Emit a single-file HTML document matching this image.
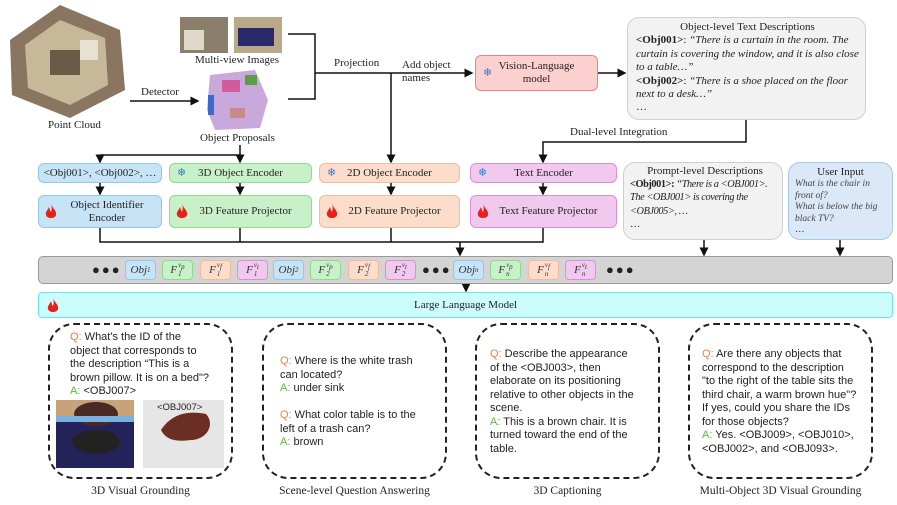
<!DOCTYPE html>
<html><head><meta charset="utf-8"><style>
body{margin:0;width:897px;height:505px;background:#fff;position:relative;overflow:hidden;font-family:"Liberation Serif",serif;color:#222}
.a{position:absolute}
.box{position:absolute;box-sizing:border-box;border-radius:6px;display:flex;align-items:center;justify-content:center;font-size:11px;text-align:center;line-height:13px}
.b{background:#c6e4f6;border:1.5px solid #8ec9ee}
.g{background:#c9f1c9;border:1.5px solid #8ddb8d}
.o{background:#fcdccb;border:1.5px solid #f4bb9b}
.p{background:#f1c9ef;border:1.5px solid #da8ed8}
.tk{position:absolute;top:260px;height:20px;width:31px;box-sizing:border-box;border-radius:4px;font-size:11px;font-style:italic;display:flex;align-items:center;justify-content:center;font-family:"Liberation Serif",serif;color:#333}
.tk sub{font-size:7px;vertical-align:-2px}
.ss{display:inline-flex;flex-direction:column;font-size:7px;line-height:7px;margin-left:1px;font-style:italic}
.dash{position:absolute;box-sizing:border-box;border:2px dashed #222;border-radius:26px;top:323px;height:156px;width:185px}
.pt{position:absolute;font-family:"Liberation Sans",sans-serif;font-size:11px;line-height:13.5px;color:#222;white-space:nowrap}
.q{color:#ef7c3c}.an{color:#5bb83a}
.lab{position:absolute;top:485px;font-size:11.5px;text-align:center}
.sn{color:#2a7fd4;font-size:11px;position:absolute;left:7px}
.fl{position:absolute;left:6px}
</style></head><body>
<svg class="a" style="left:0;top:0" width="897" height="505">
<defs><marker id="ar" markerWidth="6" markerHeight="6" refX="5" refY="3" orient="auto"><path d="M0,0L6,3L0,6z" fill="#111"/></marker></defs>
<g stroke="#111" stroke-width="1.5" fill="none">
<line x1="130" y1="101" x2="198" y2="101" marker-end="url(#ar)"/>
<polyline points="288,34 315,34 315,99 288,99"/>
<line x1="315" y1="73" x2="472" y2="73" marker-end="url(#ar)"/>
<line x1="391" y1="73" x2="391" y2="162" marker-end="url(#ar)"/>
<line x1="598" y1="73" x2="625" y2="73" marker-end="url(#ar)"/>
<polyline points="746,120 746,142 543,142 543,162" marker-end="url(#ar)"/>
<line x1="240" y1="145" x2="240" y2="162" marker-end="url(#ar)"/>
<line x1="100" y1="155" x2="240" y2="155"/>
<line x1="100" y1="155" x2="100" y2="162" marker-end="url(#ar)"/>
<line x1="100" y1="183" x2="100" y2="194" marker-end="url(#ar)"/>
<line x1="240" y1="183" x2="240" y2="194" marker-end="url(#ar)"/>
<line x1="391" y1="183" x2="391" y2="194" marker-end="url(#ar)"/>
<line x1="543" y1="183" x2="543" y2="194" marker-end="url(#ar)"/>
<polyline points="100,228 100,242 543,242 543,228"/>
<line x1="240" y1="228" x2="240" y2="242"/>
<line x1="391" y1="228" x2="391" y2="242"/>
<line x1="460" y1="242" x2="460" y2="255" marker-end="url(#ar)"/>
<line x1="704" y1="240" x2="704" y2="255" marker-end="url(#ar)"/>
<line x1="840" y1="240" x2="840" y2="255" marker-end="url(#ar)"/>
<line x1="466" y1="284" x2="466" y2="291" marker-end="url(#ar)"/>
</g>
<g>
<polygon points="10,40 60,5 120,30 125,90 70,118 12,95" fill="#8a7560"/>
<polygon points="25,45 60,20 105,38 108,85 70,105 28,88" fill="#c8b89a"/>
<rect x="50" y="50" width="30" height="25" fill="#6b5a48"/>
<rect x="80" y="40" width="18" height="20" fill="#e8e0d0"/>
</g>
<rect x="180" y="17" width="48" height="36" fill="#8b7e6a"/><rect x="184" y="30" width="20" height="20" fill="#e0d8c8"/>
<rect x="234" y="17" width="48" height="36" fill="#b9a88a"/><rect x="238" y="28" width="36" height="18" fill="#2a2a6a"/>
<polygon points="210,75 255,70 268,100 260,128 215,130 207,110" fill="#c9a8dc"/>
<rect x="222" y="80" width="18" height="12" fill="#d45aa0"/><rect x="245" y="75" width="12" height="10" fill="#5a9c4a"/><rect x="230" y="108" width="15" height="10" fill="#c98a8a"/><rect x="208" y="95" width="6" height="20" fill="#3a6ad0"/>
</svg>
<div class="a" style="left:48px;top:119px;font-size:11px">Point Cloud</div>
<div class="a" style="left:141px;top:86px;font-size:11px">Detector</div>
<div class="a" style="left:195px;top:54px;font-size:11px">Multi-view Images</div>
<div class="a" style="left:200px;top:132px;font-size:11px">Object Proposals</div>
<div class="a" style="left:334px;top:57px;font-size:11px">Projection</div>
<div class="a" style="left:402px;top:59px;font-size:11px;line-height:13px">Add object<br>names</div>
<div class="box" style="left:475px;top:55px;width:123px;height:36px;background:#fdd0d0;border:1.5px solid #f08080"><span class="sn" style="top:11px">❄</span>Vision-Language<br>model</div>
<div class="a" style="left:627px;top:17px;width:239px;height:103px;box-sizing:border-box;background:#f2f2f2;border:1.5px solid #d0d0d0;border-radius:12px;font-size:11px;line-height:13.4px;padding:3px 6px 0 8px">
<div style="text-align:center">Object-level Text Descriptions</div>
<b>&lt;Obj001&gt;</b>: <i>“There is a curtain in the room. The curtain is covering the window, and it is also close to a table…”</i><br><b>&lt;Obj002&gt;</b>: <i>“There is a shoe placed on the floor next to a desk…”</i><br>…</div>
<div class="a" style="left:570px;top:126px;font-size:11px">Dual-level Integration</div>

<div class="box b" style="left:38px;top:163px;width:124px;height:20px">&lt;Obj001&gt;, &lt;Obj002&gt;, …</div>
<div class="box g" style="left:169px;top:163px;width:143px;height:20px"><span class="sn" style="top:3px">❄</span>3D Object Encoder</div>
<div class="box o" style="left:319px;top:163px;width:141px;height:20px"><span class="sn" style="top:3px">❄</span>2D Object Encoder</div>
<div class="box p" style="left:470px;top:163px;width:147px;height:20px"><span class="sn" style="top:3px">❄</span>Text Encoder</div>

<div class="box b" style="left:38px;top:195px;width:124px;height:33px;padding-left:14px"><svg class="fl" style="top:8px" width="12" height="16"><path d="M6,0C8,5 12,7 11,11C10,15 2,15 1,11C0,8 3,6 4,3C5,6 5,7 6,8C7,5 7,3 6,0z" fill="#e8201a"/></svg>Object Identifier<br>Encoder</div>
<div class="box g" style="left:169px;top:195px;width:143px;height:33px;padding-left:10px"><svg class="fl" style="top:8px" width="12" height="16"><path d="M6,0C8,5 12,7 11,11C10,15 2,15 1,11C0,8 3,6 4,3C5,6 5,7 6,8C7,5 7,3 6,0z" fill="#e8201a"/></svg>3D Feature Projector</div>
<div class="box o" style="left:319px;top:195px;width:141px;height:33px;padding-left:10px"><svg class="fl" style="top:8px" width="12" height="16"><path d="M6,0C8,5 12,7 11,11C10,15 2,15 1,11C0,8 3,6 4,3C5,6 5,7 6,8C7,5 7,3 6,0z" fill="#e8201a"/></svg>2D Feature Projector</div>
<div class="box p" style="left:470px;top:195px;width:147px;height:33px;padding-left:10px"><svg class="fl" style="top:8px" width="12" height="16"><path d="M6,0C8,5 12,7 11,11C10,15 2,15 1,11C0,8 3,6 4,3C5,6 5,7 6,8C7,5 7,3 6,0z" fill="#e8201a"/></svg>Text Feature Projector</div>

<div class="a" style="left:623px;top:162px;width:160px;height:78px;box-sizing:border-box;background:#f2f2f2;border:1.5px solid #cfcfcf;border-radius:12px;font-size:10.3px;line-height:13.2px;padding:2px 2px 0 6px;white-space:nowrap;letter-spacing:-0.4px;overflow:hidden">
<div style="text-align:center;font-size:11px;letter-spacing:0">Prompt-level Descriptions</div><b>&lt;Obj001&gt;:</b> <i>“There is a &lt;OBJ001&gt;.<br>The &lt;OBJ001&gt; is covering the<br>&lt;OBJ005&gt;, …</i><br>…</div>
<div class="a" style="left:788px;top:162px;width:105px;height:78px;box-sizing:border-box;background:#dbe8f7;border:1.5px solid #a6c8ec;border-radius:12px;font-size:9.5px;line-height:11.5px;padding:2px 6px;white-space:nowrap">
<div style="text-align:center;font-size:11px;line-height:14px">User Input</div><i style="color:#444">What is the chair in<br>front of?<br>What is below the big<br>black TV?</i><br>…</div>

<div class="a" style="left:38px;top:256px;width:855px;height:28px;box-sizing:border-box;background:#d4d4d4;border:1.5px solid #9a9a9a;border-radius:5px"></div>
<div class="a" style="left:92px;top:262px;font-size:13px;letter-spacing:2px">●●●</div>
<div class="tk b" style="left:125px">Obj<sub>1</sub></div>
<div class="tk g" style="left:162px">F<span class="ss"><span>v<sub>p</sub></span><span>1</span></span></div>
<div class="tk o" style="left:200px">F<span class="ss"><span>v<sub>f</sub></span><span>1</span></span></div>
<div class="tk p" style="left:237px">F<span class="ss"><span>v<sub>t</sub></span><span>1</span></span></div>
<div class="tk b" style="left:273px">Obj<sub>2</sub></div>
<div class="tk g" style="left:310px">F<span class="ss"><span>v<sub>p</sub></span><span>2</span></span></div>
<div class="tk o" style="left:348px">F<span class="ss"><span>v<sub>f</sub></span><span>2</span></span></div>
<div class="tk p" style="left:385px">F<span class="ss"><span>v<sub>t</sub></span><span>2</span></span></div>
<div class="a" style="left:422px;top:262px;font-size:13px;letter-spacing:2px">●●●</div>
<div class="tk b" style="left:453px">Obj<sub>n</sub></div>
<div class="tk g" style="left:490px">F<span class="ss"><span>v<sub>p</sub></span><span>n</span></span></div>
<div class="tk o" style="left:528px">F<span class="ss"><span>v<sub>f</sub></span><span>n</span></span></div>
<div class="tk p" style="left:565px">F<span class="ss"><span>v<sub>t</sub></span><span>n</span></span></div>
<div class="a" style="left:606px;top:262px;font-size:13px;letter-spacing:2px">●●●</div>

<div class="box" style="left:38px;top:292px;width:855px;height:26px;background:#ccfcfc;border:1.5px solid #66e8f0;border-radius:4px">Large Language Model<svg class="fl" style="top:5px;left:8px" width="12" height="16"><path d="M6,0C8,5 12,7 11,11C10,15 2,15 1,11C0,8 3,6 4,3C5,6 5,7 6,8C7,5 7,3 6,0z" fill="#e8201a"/></svg></div>

<div class="dash" style="left:48px"></div>
<div class="dash" style="left:262px"></div>
<div class="dash" style="left:475px"></div>
<div class="dash" style="left:688px"></div>

<div class="pt" style="left:70px;top:331px"><span class="q">Q:</span> What's the ID of the<br>object that corresponds to<br>the description “This is a<br>brown pillow. It is on a bed"?<br><span class="an">A:</span> &lt;OBJ007&gt;</div>
<svg class="a" style="left:56px;top:400px" width="170" height="68">
<rect x="0" y="0" width="78" height="68" fill="#c9a27a"/><rect x="0" y="18" width="78" height="50" fill="#23235a"/><ellipse cx="40" cy="14" rx="22" ry="12" fill="#4a2a22"/><ellipse cx="40" cy="42" rx="24" ry="12" fill="#222"/><rect x="0" y="16" width="78" height="6" fill="#7ab0e0"/>
<rect x="87" y="0" width="81" height="68" fill="#e6e6e6"/><path d="M105,30 C115,15 130,10 150,14 C160,25 150,40 135,40 C120,42 110,40 105,30z" fill="#6b2e22"/>
<text x="101" y="10" font-family="Liberation Sans" font-size="9.5" fill="#222">&lt;OBJ007&gt;</text></svg>
<div class="pt" style="left:280px;top:355px"><span class="q">Q:</span> Where is the white trash<br>can located?<br><span class="an">A:</span> under sink<br><br><span class="q">Q:</span> What color table is to the<br>left of a trash can?<br><span class="an">A:</span> brown</div>
<div class="pt" style="left:490px;top:348px"><span class="q">Q:</span> Describe the appearance<br>of the &lt;OBJ003&gt;, then<br>elaborate on its positioning<br>relative to other objects in the<br>scene.<br><span class="an">A:</span> This is a brown chair. It is<br>turned toward the end of the<br>table.</div>
<div class="pt" style="left:702px;top:348px"><span class="q">Q:</span> Are there any objects that<br>correspond to the description<br>"to the right of the table sits the<br>third chair, a warm brown hue"?<br>If yes, could you share the IDs<br>for those objects?<br><span class="an">A:</span> Yes. &lt;OBJ009&gt;, &lt;OBJ010&gt;,<br>&lt;OBJ002&gt;, and &lt;OBJ093&gt;.</div>

<div class="lab" style="left:48px;width:185px">3D Visual Grounding</div>
<div class="lab" style="left:252px;width:205px">Scene-level Question Answering</div>
<div class="lab" style="left:475px;width:185px">3D Captioning</div>
<div class="lab" style="left:673px;width:215px">Multi-Object 3D Visual Grounding</div>
</body></html>
